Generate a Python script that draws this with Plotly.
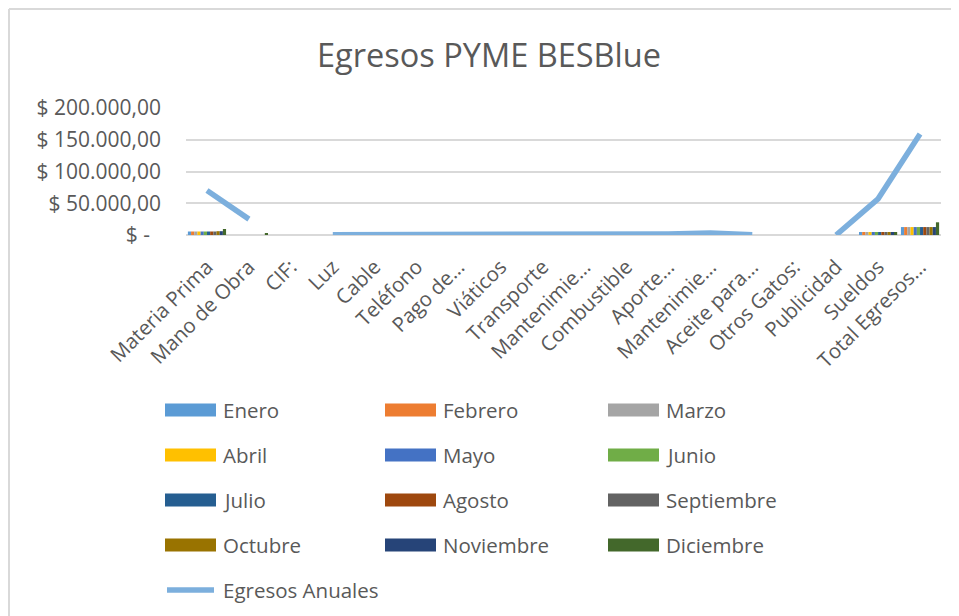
import plotly.graph_objects as go

categories = ["Materia Prima", "Mano de Obra", "CIF:", "Luz", "Cable", "Teléfono", "Pago de…",
              "Viáticos", "Transporte", "Mantenimie…", "Combustible", "Aporte…", "Mantenimie…",
              "Aceite para…", "Otros Gatos:", "Publicidad", "Sueldos", "Total Egresos…"]
cat_ids = list(range(len(categories)))

months = ["Enero", "Febrero", "Marzo", "Abril", "Mayo", "Junio", "Julio", "Agosto",
          "Septiembre", "Octubre", "Noviembre", "Diciembre"]
month_colors = ["#5B9BD5", "#ED7D31", "#A5A5A5", "#FFC000", "#4472C4", "#70AD47",
                "#255E91", "#9E480E", "#636363", "#997300", "#264478", "#43682B"]

# per-category monthly values (Materia Prima, Mano de Obra, Sueldos, Total Egresos)
materia_prima = [5500, 5500, 5500, 5500, 5500, 5500, 5500, 5500, 5500, 6000, 6000, 9500]
mano_de_obra = [0, 0, 0, 0, 0, 0, 0, 0, 0, 0, 0, 2000]
sueldos = [4750, 4750, 4750, 4750, 4750, 4750, 4750, 4750, 4750, 4750, 4750, 4750]
total_egresos = [12500, 12500, 12500, 12500, 12500, 12500, 12500, 12500, 12500, 12500, 12500, 20000]

egresos_anuales = [70000, 25000, None, 500, 500, 500, 500, 500, 500, 500, 500, 1500, 3000,
                   500, None, 0, 57000, 159000]

y_tickvals = [0, 50000, 100000, 150000, 200000]
y_ticktext = ["$ -\u00a0\u00a0", "$ 50.000,00", "$ 100.000,00", "$ 150.000,00", "$ 200.000,00"]

TEXT = "#595959"
FONT = "Open Sans"
LINE_COLOR = "#7cafdd"

OFF = 8  # page offset of the figure in the browser
W, H = 959 - OFF, 616 - OFF
ML, MT = 178, 100
MR = W - (941 - OFF)
MB = H - (235 - OFF)
PW, PH = W - ML - MR, H - MT - MB


def px_x(px):
    return (px - OFF - ML) / PW


def px_y(py):
    return (H - MB - (py - OFF)) / PH


fig = go.Figure()
for m_i, (name, color) in enumerate(zip(months, month_colors)):
    vals = [0] * len(categories)
    vals[0] = materia_prima[m_i]
    vals[1] = mano_de_obra[m_i]
    vals[16] = sueldos[m_i]
    vals[17] = total_egresos[m_i]
    fig.add_trace(go.Bar(x=cat_ids, y=vals, name=name, marker_color=color,
                         marker_line_width=0, showlegend=False))

fig.add_trace(go.Scatter(x=cat_ids, y=egresos_anuales, name="Egresos Anuales", mode="lines",
                         line=dict(color=LINE_COLOR, width=5.5), connectgaps=False,
                         showlegend=False))

border = dict(color="#d9d9d9", width=2)
shapes = [
    dict(type="line", xref="paper", yref="paper", x0=px_x(OFF + 1), x1=px_x(OFF + 1),
         y0=px_y(OFF + 1), y1=px_y(OFF + H), line=border, layer="below"),
    dict(type="line", xref="paper", yref="paper", x0=px_x(OFF + 1), x1=px_x(OFF + W),
         y0=px_y(OFF + 1), y1=px_y(OFF + 1), line=border, layer="below"),
]
annotations = []
col_sw = [165, 385, 608]
row_y = [410, 455, 500, 545]
for i, (name, color) in enumerate(zip(months, month_colors)):
    r, c = divmod(i, 3)
    sx, cy = col_sw[c], row_y[r]
    shapes.append(dict(type="rect", xref="paper", yref="paper", x0=px_x(sx), x1=px_x(sx + 51),
                       y0=px_y(cy + 6.5), y1=px_y(cy - 6.5), fillcolor=color, line_width=0))
    annotations.append(dict(xref="paper", yref="paper", x=px_x(sx + 56), y=px_y(cy), text=name,
                            showarrow=False, xanchor="left", yanchor="middle",
                            font=dict(family=FONT, size=20.5, color=TEXT)))
shapes.append(dict(type="line", xref="paper", yref="paper", x0=px_x(167), x1=px_x(214),
                   y0=px_y(590), y1=px_y(590), line=dict(color=LINE_COLOR, width=5.5)))
annotations.append(dict(xref="paper", yref="paper", x=px_x(221), y=px_y(590), text="Egresos Anuales",
                        showarrow=False, xanchor="left", yanchor="middle",
                        font=dict(family=FONT, size=20.5, color=TEXT)))

fig.update_layout(
    width=W, height=H,
    margin=dict(l=ML, r=MR, t=MT, b=MB),
    paper_bgcolor="white", plot_bgcolor="white",
    barmode="group", bargap=0.09, bargroupgap=0,
    title=dict(text="Egresos PYME BESBlue", x=(489 - OFF) / W, xanchor="center",
               y=1 - (56 - OFF) / H, yanchor="middle", yref="container",
               font=dict(family=FONT, size=32.5, color=TEXT)),
    font=dict(family=FONT, color=TEXT),
    showlegend=False,
    shapes=shapes,
    annotations=annotations,
)
fig.update_xaxes(tickmode="array", tickvals=cat_ids, ticktext=categories, tickangle=-45,
                 range=[-0.5, len(categories) - 0.5], showgrid=False, showline=False,
                 zeroline=False, ticks="", automargin=False, ticklabelstandoff=15,
                 tickfont=dict(family=FONT, size=20.4, color=TEXT))
fig.update_yaxes(range=[0, 200000], tickmode="array", tickvals=y_tickvals, ticktext=y_ticktext,
                 showgrid=True, gridcolor="#d9d9d9", gridwidth=1.5, zeroline=True,
                 zerolinecolor="#d9d9d9", zerolinewidth=1.5, showline=False, ticks="",
                 automargin=False, ticklabelstandoff=24,
                 tickfont=dict(family=FONT, size=21, color=TEXT))

fig.write_html("out.html", post_script="document.body.style.overflow='hidden';")
